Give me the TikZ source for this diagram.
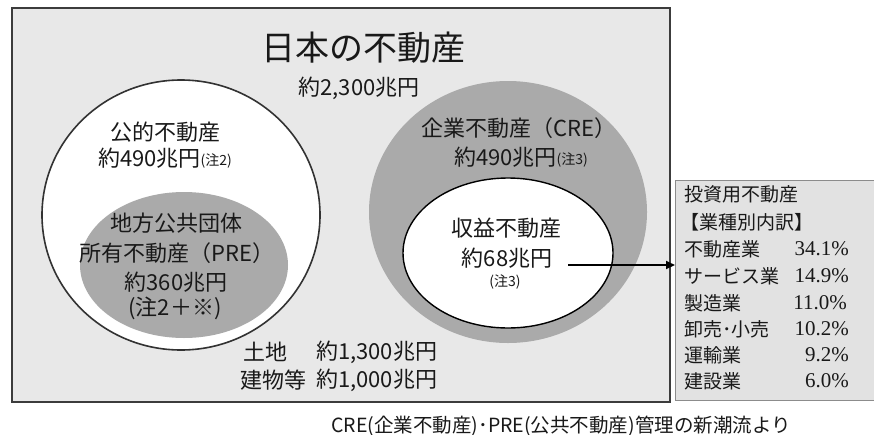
\documentclass[tikz,border=0pt]{standalone}
\usepackage{fontspec}
\setmainfont{Noto Sans CJK JP}
\newfontfamily\numfont{Liberation Serif}
\usetikzlibrary{arrows.meta,shapes.geometric}
\definecolor{bgmain}{RGB}{232,232,232}
\definecolor{gcirc}{RGB}{170,170,170}
\definecolor{rboxfill}{RGB}{226,226,226}
\definecolor{rboxline}{RGB}{140,140,140}
\definecolor{txt}{RGB}{25,25,25}
\begin{document}
\begin{tikzpicture}[x=1pt,y=-1pt,
  lbl/.style={inner sep=0pt,text=txt,font=\fontsize{22}{24}\selectfont},
  big/.style={inner sep=0pt,text=txt,font=\fontsize{34}{36}\selectfont},
  rtx/.style={inner sep=0pt,text=txt,anchor=west,font=\fontsize{19}{21}\selectfont},
  pct/.style={inner sep=0pt,text=txt,anchor=east,font=\numfont\fontsize{21}{23}\selectfont},
  note/.style={font=\fontsize{14}{15}\selectfont},
  ell/.style={ellipse,inner sep=0pt},
  arr/.style={line width=2pt,-{Triangle[length=9pt,width=8pt]}}]
\useasboundingbox (0,0) rectangle (874,434);
\fill[white] (0,0) rectangle (874,434);
% main box
\node[draw={rgb,255:red,60;green,60;blue,60},line width=1.5pt,fill=bgmain,minimum width=658,minimum height=394,anchor=north west,inner sep=0pt] (main) at (11,7) {};
% left circles
\node[ell,draw={rgb,255:red,50;green,50;blue,50},line width=1.6pt,fill=white,minimum width=278,minimum height=270] (pub) at (181,215) {};
\node[ell,fill=gcirc,minimum width=208,minimum height=146] (pre) at (184,265) {};
% right circles
\node[ell,fill=gcirc,minimum width=278,minimum height=262] (cre) at (508,212) {};
\node[ell,draw=black,line width=1.4pt,fill=white,minimum width=210,minimum height=150] (inc) at (508,253) {};
% right box
\node[draw=rboxline,line width=1pt,fill=rboxfill,minimum width=215,minimum height=220,anchor=north west,inner sep=0pt] (rbox) at (675,180) {};
% title
\node[big] (title) at (363,48) {日本の不動産};
\node[lbl] (total) at (359,88) {約2,300兆円};
% left texts
\node[lbl] (pubA) at (165,132) {公的不動産};
\node[lbl] (pubB) at (165,158) {約490兆円\raisebox{1pt}{\fontsize{14}{15}\selectfont (注2)}};
\node[lbl] (preA) at (176,223) {地方公共団体};
\node[lbl] (preB) at (177,253) {所有不動産（PRE）};
\node[lbl] (preC) at (176,282) {約360兆円};
\node[lbl] (preD) at (175,308) {(注2＋※)};
% right texts
\node[lbl] (creA) at (519,128) {企業不動産（CRE）};
\node[lbl] (creB) at (521,157) {約490兆円\raisebox{1pt}{\fontsize{14}{15}\selectfont (注3)}};
\node[lbl] (incA) at (506,228) {収益不動産};
\node[lbl] (incB) at (507,258) {約68兆円};
\node[lbl,note] (incC) at (505,282) {(注3)};
% land / buildings
\node[lbl,anchor=west] (landA) at (243,352) {土地};
\node[lbl,anchor=west] (landB) at (316,352) {約1,300兆円};
\node[lbl,anchor=west] (bldA) at (240,380) {建物等};
\node[lbl,anchor=west] (bldB) at (316,380) {約1,000兆円};
% arrow
\coordinate (as) at (568,265);
\draw[arr] (as) -- (as -| rbox.west);
% right box texts
\node[rtx] (r0) at (684,194) {投資用不動産};
\node[rtx] (r1) at (680,222) {【業種別内訳】};
\node[rtx] (r2) at (684,249) {不動産業};
\node[rtx] (r3) at (684,276) {サービス業};
\node[rtx] (r4) at (684,303) {製造業};
\node[rtx] (r5) at (684,329) {卸売･小売};
\node[rtx] (r6) at (684,355) {運輸業};
\node[rtx] (r7) at (684,381) {建設業};
\node[pct] (p2) at (849,249) {34.1\%};
\node[pct] (p3) at (849,276) {14.9\%};
\node[pct] (p4) at (847,303) {11.0\%};
\node[pct] (p5) at (849,329) {10.2\%};
\node[pct] (p6) at (849,355) {\phantom{1}9.2\%};
\node[pct] (p7) at (849,381) {\phantom{1}6.0\%};
% caption
\node[inner sep=0pt,text=txt,font=\fontsize{19.5}{21}\selectfont] (cap) at (561,426) {CRE(企業不動産)･PRE(公共不動産)管理の新潮流より};
\end{tikzpicture}
\end{document}
